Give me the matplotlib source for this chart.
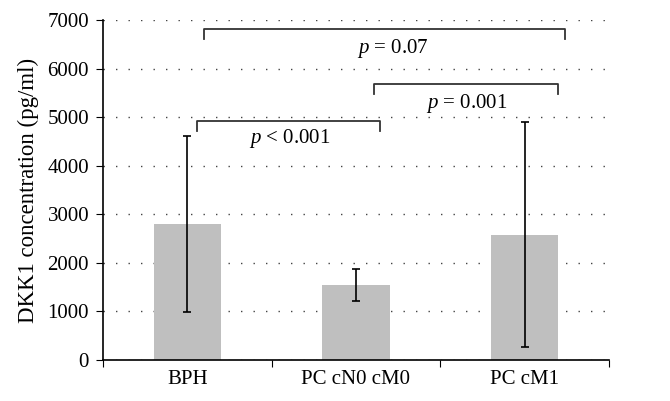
import matplotlib
matplotlib.use("Agg")
from matplotlib import pyplot as plt

groups = ['BPH', 'PC cN0 cM0', 'PC cM1']
means = [2800, 1550, 2580]
sds = [1810, 330, 2320]

# significance brackets: (x start, x end, height, label)
brackets = [(0.06, 1.14, 4920, '$p$ < 0.001'),
            (1.11, 2.20, 5680, '$p$ = 0.001'),
            (0.10, 2.24, 6815, '$p$ = 0.07')]
label_pos = [(0.61, 4550), (1.66, 5290), (1.22, 6420)]

plt.rcParams['font.family'] = ['Liberation Serif', 'DejaVu Serif']
plt.rcParams['mathtext.fontset'] = 'custom'
plt.rcParams['mathtext.it'] = 'Liberation Serif:italic'

fig = plt.figure(figsize=(6.7, 4.01), dpi=100)
ax = fig.add_axes([0.1537, 0.1022, 0.755, 0.848])

x = list(range(len(groups)))
ax.bar(x, means, width=0.4, color='#bfbfbf', zorder=2)
ax.errorbar(x, means, yerr=sds, fmt='none', ecolor='black', elinewidth=1.2,
            capsize=3, capthick=1.2, zorder=3)

for (x0, x1, h, txt), (tx, ty) in zip(brackets, label_pos):
    ax.plot([x0, x0, x1, x1], [h - 205, h, h, h - 205], color='#333333', lw=1.3, zorder=3)
    ax.text(tx, ty, txt, ha='center', va='center', fontsize=15)

ax.set_xlim(-0.5, 2.5)
ax.set_ylim(0, 7000)
ax.set_yticks(range(0, 7001, 1000))
ax.set_xticks([-0.5, 0.5, 1.5, 2.5])
ax.set_xticklabels([])
ax.set_xticks(x, minor=True)
ax.set_xticklabels(groups, minor=True)
ax.tick_params(axis='x', which='minor', length=0, labelsize=15, pad=7)
ax.tick_params(axis='x', which='major', length=5, direction='out')
ax.tick_params(axis='y', length=5, labelsize=15, pad=5)

ax.yaxis.grid(True, linestyle=(0, (1, 8)), color='#444444', lw=1.0, zorder=0)
ax.set_axisbelow(True)
for s in ['top', 'right']:
    ax.spines[s].set_visible(False)
ax.spines['left'].set_linewidth(1.2)
ax.spines['bottom'].set_linewidth(1.2)

ax.set_ylabel('DKK1 concentration (pg/ml)', fontsize=16.5, labelpad=6)

fig.savefig('out.png', dpi=100)
